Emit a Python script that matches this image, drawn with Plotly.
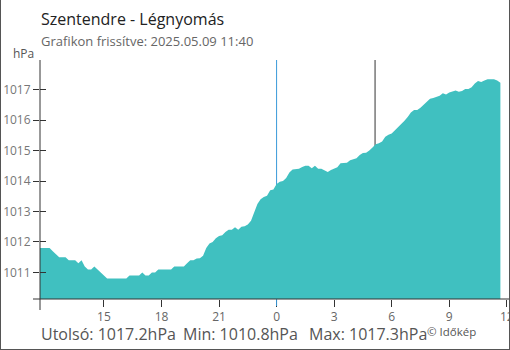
import pandas as pd
import plotly.graph_objects as go

# ---- data (10-minute readings, hPa) ----
start_time = "2025-05-08 11:40"
pressure = [
    1011.8, 1011.8, 1011.8, 1011.8, 1011.7, 1011.6, 1011.5, 1011.5, 1011.5, 1011.4,
    1011.4, 1011.4, 1011.3, 1011.4, 1011.2, 1011.1, 1011.1, 1011.2, 1011.1, 1011.0,
    1010.9, 1010.8, 1010.8, 1010.8, 1010.8, 1010.8, 1010.8, 1010.8, 1010.9, 1010.9,
    1010.9, 1010.9, 1011.0, 1010.9, 1010.9, 1011.0, 1011.0, 1011.1, 1011.1, 1011.1,
    1011.1, 1011.1, 1011.2, 1011.2, 1011.2, 1011.2, 1011.3, 1011.4, 1011.4, 1011.46,
    1011.47, 1011.55, 1011.8, 1011.95, 1012.0, 1012.12, 1012.2, 1012.22, 1012.33, 1012.4,
    1012.4, 1012.48, 1012.4, 1012.5, 1012.52, 1012.57, 1012.7, 1012.95, 1013.25, 1013.4,
    1013.48, 1013.52, 1013.7, 1013.72, 1013.9, 1013.98, 1014.0, 1014.1, 1014.28, 1014.38,
    1014.4, 1014.4, 1014.46, 1014.5, 1014.5, 1014.42, 1014.5, 1014.4, 1014.4, 1014.34,
    1014.3, 1014.36, 1014.4, 1014.45, 1014.58, 1014.6, 1014.6, 1014.68, 1014.72, 1014.75,
    1014.85, 1014.92, 1014.93, 1015.0, 1015.1, 1015.21, 1015.24, 1015.3, 1015.45, 1015.52,
    1015.56, 1015.66, 1015.75, 1015.85, 1015.98, 1016.1, 1016.25, 1016.33, 1016.33, 1016.4,
    1016.5, 1016.6, 1016.7, 1016.72, 1016.75, 1016.8, 1016.88, 1016.84, 1016.9, 1016.94,
    1016.97, 1016.93, 1016.95, 1017.02, 1017.02, 1017.08, 1017.2, 1017.28, 1017.25, 1017.3,
    1017.34, 1017.34, 1017.34, 1017.3, 1017.22,
]
times = pd.date_range(start_time, periods=len(pressure), freq="10min")

x_tick_vals = ["2025-05-08 15:00", "2025-05-08 18:00", "2025-05-08 21:00",
               "2025-05-09 00:00", "2025-05-09 03:00", "2025-05-09 06:00",
               "2025-05-09 09:00", "2025-05-09 12:00"]
x_tick_text = ["15", "18", "21", "0", "3", "6", "9", "12"]
y_tick_vals = [1011, 1012, 1013, 1014, 1015, 1016, 1017]

x_range = ["2025-05-08 11:40", "2025-05-09 12:00:40"]
y_range = [1010.13, 1017.97]
midnight = "2025-05-09 00:00"
sunrise = "2025-05-09 05:08"

title = "Szentendre - Légnyomás"
subtitle = "Grafikon frissítve: 2025.05.09 11:40"
unit = "hPa"
stats = ["Utolsó: 1017.2hPa", "Min: 1010.8hPa", "Max: 1017.3hPa"]
credit = "© Időkép"

# ---- layout geometry (pixels) ----
W, H = 510, 350
ML, MR, MT, MB = 40, 3, 60, 51
PW, PH = W - ML - MR, H - MT - MB


def px(xp):
    return (xp - ML) / PW


def py(yp):
    return (H - MB - yp) / PH


FONT = "Open Sans"
fig = go.Figure()
fig.add_trace(go.Scatter(
    x=times, y=pressure, mode="lines", fill="tozeroy",
    line=dict(width=0, color="#40C0C0"), fillcolor="#40C0C0",
    hoverinfo="x+y", showlegend=False,
))
# helper trace for the inner half of the y ticks
fig.add_trace(go.Scatter(
    x=times, y=pressure, yaxis="y2", mode="none", hoverinfo="skip", showlegend=False,
))

shapes = [
    dict(type="line", xref="x", yref="paper", x0=midnight, x1=midnight, y0=0, y1=1,
         line=dict(color="#3a9ad9", width=1), layer="below"),
    dict(type="line", xref="x", yref="paper", x0=midnight, x1=midnight, y0=py(306), y1=0,
         line=dict(color="#3a9ad9", width=1), layer="above"),
    dict(type="line", xref="x", yref="paper", x0=sunrise, x1=sunrise, y0=0, y1=1,
         line=dict(color="#333333", width=1), layer="below"),
    dict(type="line", xref="paper", yref="paper", x0=0, x1=0, y0=py(310), y1=1,
         line=dict(color="#333333", width=1), layer="above"),
    dict(type="line", xref="paper", yref="paper", x0=px(33), x1=px(510), y0=0, y1=0,
         line=dict(color="#333333", width=1), layer="above"),
    dict(type="line", xref="paper", yref="paper", x0=px(0.5), x1=px(0.5), y0=py(0), y1=py(349.5),
         line=dict(color="#555555", width=1)),
    dict(type="line", xref="paper", yref="paper", x0=px(509.5), x1=px(509.5), y0=py(0), y1=py(349.5),
         line=dict(color="#555555", width=1)),
    dict(type="line", xref="paper", yref="paper", x0=px(0), x1=px(510), y0=py(349.5), y1=py(349.5),
         line=dict(color="#555555", width=1)),
]

annotations = [
    dict(text=title, x=px(38.5), y=py(19), xanchor="left", yanchor="middle",
         font=dict(family=FONT, size=16, color="#222222")),
    dict(text=subtitle, x=px(38.5), y=py(41.5), xanchor="left", yanchor="middle",
         font=dict(family=FONT, size=13, color="#666666")),
    dict(text=unit, x=px(11), y=py(53), xanchor="left", yanchor="middle",
         font=dict(family=FONT, size=12, color="#555555")),
    dict(text=stats[0], x=px(39), y=py(334), xanchor="left", yanchor="middle",
         font=dict(family=FONT, size=16, color="#555555")),
    dict(text=stats[1], x=px(181), y=py(334), xanchor="left", yanchor="middle",
         font=dict(family=FONT, size=16, color="#555555")),
    dict(text=stats[2], x=px(307), y=py(334), xanchor="left", yanchor="middle",
         font=dict(family=FONT, size=16, color="#555555")),
    dict(text=credit, x=px(424.5), y=py(331.5), xanchor="left", yanchor="middle",
         font=dict(family=FONT, size=11.5, color="#555555")),
]
for a in annotations:
    a.update(xref="paper", yref="paper", showarrow=False)

fig.update_layout(
    width=W, height=H,
    margin=dict(l=ML, r=MR, t=MT, b=MB, autoexpand=False),
    paper_bgcolor="white", plot_bgcolor="white",
    font=dict(family=FONT, size=12, color="#666666"),
    xaxis=dict(range=x_range, type="date", tickvals=x_tick_vals, ticktext=x_tick_text,
               ticks="outside", ticklen=7, tickcolor="#333333", showgrid=False,
               showline=False, zeroline=False, fixedrange=True, automargin=False,
               ticklabeloverflow="allow",
               tickfont=dict(family=FONT, size=12, color="#666666")),
    yaxis=dict(range=y_range, tickvals=y_tick_vals, ticks="outside", ticklen=6,
               tickcolor="#333333", showgrid=False, showline=False, zeroline=False,
               automargin=False,
               tickfont=dict(family=FONT, size=12, color="#777777")),
    yaxis2=dict(overlaying="y", matches="y", range=y_range, tickvals=y_tick_vals,
                ticks="inside", ticklen=6, tickcolor="#333333", showticklabels=False,
                showgrid=False, showline=False, zeroline=False, side="left",
                automargin=False),
    shapes=shapes,
    annotations=annotations,
    showlegend=False,
)

fig.write_html("out.html", config={"displayModeBar": False})
